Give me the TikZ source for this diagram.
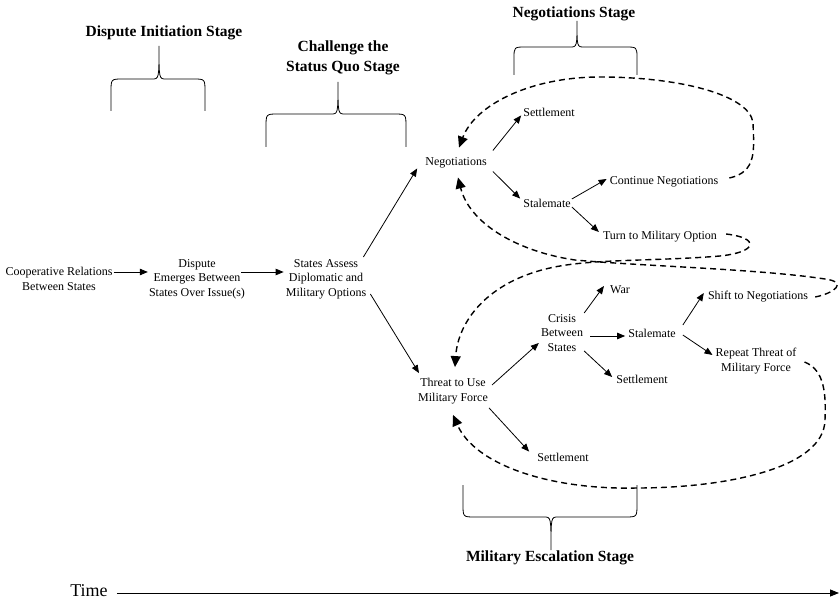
\documentclass[tikz,border=0pt]{standalone}
\usepackage{fontspec}
\setmainfont{Liberation Serif}
\usetikzlibrary{arrows.meta,calc}
\newcommand{\stgbrace}[6]{%
 \pgfmathsetmacro{\bxa}{#1+12}\pgfmathsetmacro{\bxb}{#3-7}%
 \pgfmathsetmacro{\bxc}{#3+7}\pgfmathsetmacro{\bxd}{#2-12}%
 \pgfmathsetmacro{\bye}{#5+0.4*(#4-#5)}%
 \draw[bracestyle] (#1,#4) -- (#1,\bye) .. controls (#1,#5) .. (\bxa,#5) -- (\bxb,#5)
   .. controls (#3,#5) .. (#3,#6) .. controls (#3,#5) .. (\bxc,#5) -- (\bxd,#5)
   .. controls (#2,#5) .. (#2,\bye) -- (#2,#4);}
\begin{document}
\begin{tikzpicture}[x=1pt,y=-1pt,
 lbl/.style={align=center,inner sep=1pt,font=\fontsize{12}{14.5}\selectfont},
 stage/.style={align=center,inner sep=1pt,font=\fontsize{15.5}{19.5}\selectfont\bfseries},
 arr/.style={line width=0.8pt,-{Triangle[length=8pt,width=6.5pt]}},
 darr/.style={line width=1.4pt,dash pattern=on 6pt off 4pt,-{Triangle[length=11pt,width=10pt]}},
 bracestyle/.style={line width=0.8pt}]
\useasboundingbox (0,0) rectangle (839,604);

% stage headings
\node[stage] (s1) at (164,33) {Dispute Initiation Stage};
\node[stage] (s2) at (343,58) {Challenge the\\Status Quo Stage};
\node[stage] (s3) at (574,14) {Negotiations Stage};
\node[stage] (s4) at (550,558) {Military Escalation Stage};

% braces
\stgbrace{111}{205}{159}{111}{79}{46}
\stgbrace{266}{406}{338}{147}{114}{82}
\stgbrace{514}{637}{577}{75}{47}{21}
\stgbrace{463}{637}{551}{485}{517}{550}

% nodes
\node[lbl] (coop) at (59,279) {Cooperative Relations\\Between States};
\node[lbl] (disp) at (197,279) {Dispute\\Emerges Between\\States Over Issue(s)};
\node[lbl] (assess) at (326,279) {States Assess\\Diplomatic and\\Military Options};
\node[lbl] (neg) at (456,163) {Negotiations};
\node[lbl] (set1) at (549,112) {Settlement};
\node[lbl] (stal1) at (547,203) {Stalemate};
\node[lbl] (cont) at (664,182) {Continue Negotiations};
\node[lbl] (turn) at (660,237) {Turn to Military Option};
\node[lbl] (threat) at (453,391) {Threat to Use\\Military Force};
\node[lbl] (crisis) at (562,333) {Crisis\\Between\\States};
\node[lbl] (war) at (620,290) {War};
\node[lbl] (stal2) at (652,333) {Stalemate};
\node[lbl] (set2) at (642,379) {Settlement};
\node[lbl] (shift) at (758,297) {Shift to Negotiations};
\node[lbl] (rep) at (756,361) {Repeat Threat of\\Military Force};
\node[lbl] (set3) at (563,457) {Settlement};

% solid connectors
\draw[arr] ([shift={(0,-7)}]coop.east) -- ([shift={(0,-7)}]disp.west);
\draw[arr] ([shift={(-5,-7)}]disp.east) -- ([shift={(-1,-7)}]assess.west);
\draw[arr] ([shift={(-4,-1)}]assess.north east) -- ([shift={(-7,-1)}]neg.south west);
\draw[arr] ([shift={(3,15)}]assess.east) -- ([shift={(2,-4)}]threat.north west);
\draw[arr] ([shift={(5,-6)}]neg.north east) -- ([shift={(-1,-2)}]set1.south west);
\draw[arr] ([shift={(5,2)}]neg.south east) -- ([shift={(-2,1)}]stal1.north west);
\draw[arr] ([shift={(0,-4)}]stal1.east) -- ([shift={(-2,-3)}]cont.west);
\draw[arr] ([shift={(0,4)}]stal1.east) -- ([shift={(-3,-5)}]turn.west);
\draw[arr] ([shift={(3,-6)}]threat.east) -- ([shift={(-1,10)}]crisis.west);
\draw[arr] ([shift={(0,-20)}]crisis.east) -- ([shift={(-5,-4)}]war.west);
\draw[arr] ([shift={(6,3)}]crisis.east) -- ([shift={(-2,3)}]stal2.west);
\draw[arr] ([shift={(0,18)}]crisis.east) -- ([shift={(-3,-2)}]set2.west);
\draw[arr] ([shift={(6,-8)}]stal2.east) -- ([shift={(-3,-4)}]shift.west);
\draw[arr] ([shift={(6,2)}]stal2.east) -- ([shift={(-2,-6)}]rep.west);
\draw[arr] ([shift={(0,3)}]threat.south east) -- ([shift={(-7,0)}]set3.north west);

% dashed feedback connectors
\draw[darr] ([shift={(10,-4)}]cont.east) .. controls (757,172) and (754,150) .. (753,123)
  .. controls (750,95) and (680,77) .. (600,77)
  .. controls (530,77) and (475,105) .. ([shift={(3,-9)}]neg.north);
\draw[darr] ([shift={(8,-3)}]turn.east) .. controls (760,238) and (758,252) .. (720,256)
  .. controls (660,261) and (600,259) .. (560,266)
  .. controls (490,278) and (458,320) .. ([shift={(2,-10)}]threat.north);
\draw[darr] ([shift={(6,0)}]shift.east) .. controls (835,293) and (848,282) .. (825,279)
  .. controls (760,269) and (640,266) .. (575,260)
  .. controls (520,252) and (470,225) .. ([shift={(2,8)}]neg.south);
\draw[darr] ([shift={(7,1)}]rep.east) .. controls (825,370) and (826,395) .. (825,420)
  .. controls (824,470) and (720,488) .. (637,488)
  .. controls (550,490) and (475,465) .. ([shift={(0,10)}]threat.south);

% time axis
\node[inner sep=1pt,font=\fontsize{18}{20}\selectfont] (time) at (89,591) {Time};
\coordinate (tend) at (839,593);
\draw[line width=0.8pt,-{Triangle[length=9pt,width=7pt]}] ([shift={(8,2)}]time.east) -- (tend);
\end{tikzpicture}
\end{document}
